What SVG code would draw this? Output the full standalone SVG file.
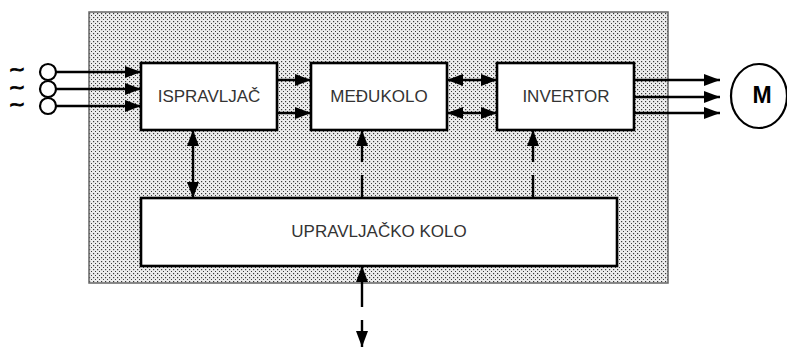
<svg xmlns="http://www.w3.org/2000/svg" width="787" height="347" viewBox="0 0 787 347">
  <defs>
    <pattern id="dots" x="0" y="0" width="4" height="4" patternUnits="userSpaceOnUse">
      <rect width="4" height="4" fill="#ececec"/>
      <rect x="1" y="1" width="1.2" height="1.2" fill="#3a3a3a"/>
      <rect x="3" y="3" width="1.2" height="1.2" fill="#3a3a3a"/>
    </pattern>
    <marker id="ah" viewBox="0 0 16 12" refX="16" refY="6" markerWidth="16" markerHeight="12" markerUnits="userSpaceOnUse" orient="auto-start-reverse">
      <path d="M0,0 L16,6 L0,12 Z" fill="#000"/>
    </marker>
  </defs>
  <style>
    .blk { fill: #fff; stroke: #000; stroke-width: 2.6; }
    .lbl { font-family: "Liberation Sans", Arial, sans-serif; font-size: 17px; fill: #333; text-anchor: middle; }
    .ln { stroke: #000; stroke-width: 2.4; fill: none; }
    .tl { font-family: "DejaVu Sans", sans-serif; font-size: 14px; font-weight: bold; fill: #000; stroke: #000; stroke-width: 0.9; text-anchor: middle; }
  </style>

  <g id="frame">
    <rect x="89" y="12" width="579" height="271" fill="url(#dots)" stroke="#666" stroke-width="1.5"/>
  </g>

  <g id="connectors">
    <line class="ln" x1="56" y1="72" x2="141" y2="72" marker-end="url(#ah)"/>
    <line class="ln" x1="56" y1="89" x2="141" y2="89" marker-end="url(#ah)"/>
    <line class="ln" x1="56" y1="106" x2="141" y2="106" marker-end="url(#ah)"/>
    <line class="ln" x1="277" y1="80" x2="311" y2="80" marker-end="url(#ah)"/>
    <line class="ln" x1="277" y1="113" x2="311" y2="113" marker-end="url(#ah)"/>
    <line class="ln" x1="447" y1="80" x2="497" y2="80" marker-start="url(#ah)" marker-end="url(#ah)"/>
    <line class="ln" x1="447" y1="113" x2="497" y2="113" marker-start="url(#ah)" marker-end="url(#ah)"/>
    <line class="ln" x1="634" y1="80" x2="720" y2="80" marker-end="url(#ah)"/>
    <line class="ln" x1="634" y1="97" x2="720" y2="97" marker-end="url(#ah)"/>
    <line class="ln" x1="634" y1="113" x2="720" y2="113" marker-end="url(#ah)"/>
    <line class="ln" x1="193" y1="130" x2="193" y2="198" marker-start="url(#ah)" marker-end="url(#ah)"/>
    <line class="ln" x1="362" y1="198" x2="362" y2="175"/>
    <line class="ln" x1="362" y1="162" x2="362" y2="130" marker-end="url(#ah)"/>
    <line class="ln" x1="533" y1="198" x2="533" y2="175"/>
    <line class="ln" x1="533" y1="162" x2="533" y2="130" marker-end="url(#ah)"/>
    <line class="ln" x1="362" y1="307" x2="362" y2="266" marker-end="url(#ah)"/>
    <line class="ln" x1="362" y1="320" x2="362" y2="347" marker-end="url(#ah)"/>
  </g>

  <g id="supply">
    <text class="tl" transform="translate(17,74) scale(1.4,1)">~</text>
    <text class="tl" transform="translate(17,92) scale(1.4,1)">~</text>
    <text class="tl" transform="translate(17,109) scale(1.4,1)">~</text>
    <circle cx="48" cy="72" r="8" fill="#fff" stroke="#000" stroke-width="2.2"/>
    <circle cx="48" cy="89" r="8" fill="#fff" stroke="#000" stroke-width="2.2"/>
    <circle cx="48" cy="106" r="8" fill="#fff" stroke="#000" stroke-width="2.2"/>
  </g>

  <g id="ispravljac">
    <rect class="blk" x="141" y="63" width="136" height="67"/>
    <text class="lbl" x="209" y="102">ISPRAVLJAČ</text>
  </g>
  <g id="medjukolo">
    <rect class="blk" x="311" y="63" width="136" height="67"/>
    <text class="lbl" x="379" y="102">MEĐUKOLO</text>
  </g>
  <g id="invertor">
    <rect class="blk" x="497" y="63" width="137" height="67"/>
    <text class="lbl" x="566" y="102">INVERTOR</text>
  </g>
  <g id="upravljacko">
    <rect class="blk" x="141" y="198" width="476" height="68"/>
    <text class="lbl" x="379" y="237">UPRAVLJAČKO KOLO</text>
  </g>
  <g id="motor">
    <ellipse cx="759" cy="96" rx="28" ry="32" fill="#fff" stroke="#000" stroke-width="2.2"/>
    <text x="762" y="103" font-family="Liberation Sans, Arial, sans-serif" font-size="23" font-weight="bold" text-anchor="middle" fill="#000">M</text>
  </g>
</svg>
